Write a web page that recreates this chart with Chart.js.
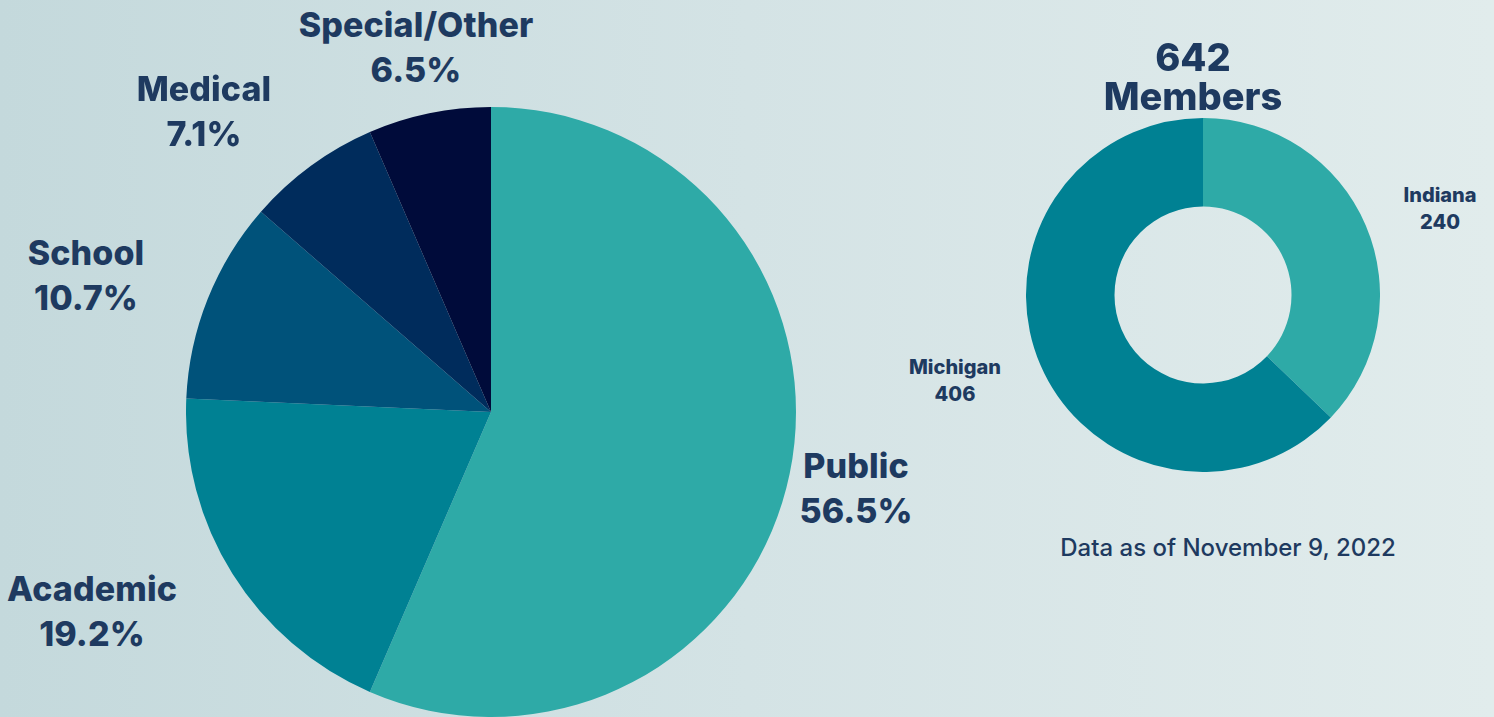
<!DOCTYPE html>
<html>
<head>
<meta charset="utf-8">
<script src="https://cdn.jsdelivr.net/npm/chart.js@4/dist/chart.umd.min.js"></script>
<style>
  html, body { margin: 0; padding: 0; }
  body {
    width: 1494px; height: 717px; overflow: hidden; position: relative;
    background: linear-gradient(90deg, #c4d9dc 0%, #d4e3e5 50%, #e1ecec 100%);
    font-family: Inter, "Open Sans", sans-serif; color: #1e3a60;
  }
  .box { position: absolute; }
  .lab {
    position: absolute; transform: translateX(-50%); text-align: center;
    font-weight: 800; white-space: nowrap;
  }
  .big { font-size: 34px; line-height: 45px; letter-spacing: 0.1px; }
  .small { font-size: 20px; line-height: 27px; }
  .head { font-size: 38px; line-height: 39px; }
  .note { font-size: 24px; font-weight: 500; line-height: 30px; }
</style>
</head>
<body>
<div class="box" style="left:186px;top:107px;width:610px;height:610px;"><canvas id="ch_types"></canvas></div>
<div class="box" style="left:1026px;top:118px;width:354px;height:354px;"><canvas id="ch_states"></canvas></div>
<div id="labels"></div>

<script>
// library types (percent of members)
const typeLabels = ['Public', 'Academic', 'School', 'Medical', 'Special/Other'];
const typeShares = [56.5, 19.2, 10.7, 7.1, 6.5];
const typeColors = ['#2eaaa7', '#008193', '#00527a', '#002c5c', '#000b3a'];

// members by state
const stateLabels = ['Indiana', 'Michigan'];
const stateCounts = [240, 406];
const stateColors = ['#2eaaa7', '#008193'];
const memberTotal = 642; // as printed on the original

// label spots: [center x, top y]
const typeSpots = [[856, 443], [92, 566], [86, 230], [204, 66], [416, 2]];
const stateSpots = [[1440, 182], [955, 354]];

function el(id) { return document.getElementById(id); }

const base = {
  responsive: true,
  maintainAspectRatio: false,
  animation: false,
  layout: { padding: 0 },
  plugins: { legend: { display: false }, tooltip: { enabled: false } }
};

new Chart(el('ch_types').getContext('2d'), {
  type: 'pie',
  data: { labels: typeLabels, datasets: [{ data: typeShares, backgroundColor: typeColors, borderWidth: 0 }] },
  options: base
});

new Chart(el('ch_states').getContext('2d'), {
  type: 'doughnut',
  data: { labels: stateLabels, datasets: [{ data: stateCounts, backgroundColor: stateColors, borderWidth: 0 }] },
  options: { ...base, cutout: '50%' }
});

// text labels
let html = '';
typeLabels.forEach((t, i) => {
  const [x, y] = typeSpots[i];
  html += `<div class="lab big" style="left:${x}px;top:${y}px">${t}<br>${typeShares[i].toFixed(1)}%</div>`;
});
stateLabels.forEach((t, i) => {
  const [x, y] = stateSpots[i];
  html += `<div class="lab small" style="left:${x}px;top:${y}px">${t}<br>${stateCounts[i]}</div>`;
});
html += `<div class="lab head" style="left:1193px;top:38px">${memberTotal}<br>Members</div>`;
html += `<div class="lab note" style="left:1228px;top:533px">Data as of November 9, 2022</div>`;
el('labels').innerHTML = html;
</script>
</body>
</html>
